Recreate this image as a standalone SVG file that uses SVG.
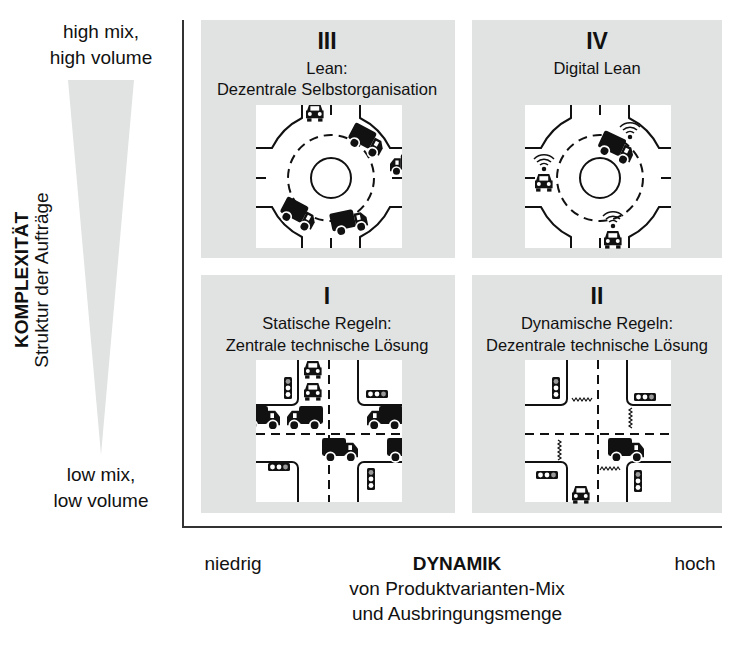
<svg xmlns="http://www.w3.org/2000/svg" xmlns:xlink="http://www.w3.org/1999/xlink" width="736" height="652" viewBox="0 0 736 652">
<style>
text{font-family:"Liberation Sans",Arial,sans-serif;fill:#111}
.ax{font-size:19px;text-anchor:middle}
.t{font-size:16.5px;text-anchor:middle}
.n{font-size:23px;font-weight:bold;text-anchor:middle}
.q{fill:#e1e3e3}
.curb{fill:none;stroke:#111;stroke-width:2}
.dash{fill:none;stroke:#111;stroke-width:2;stroke-dasharray:9 6}
.veh{fill:#111}
</style>
<defs>
<g id="truck" class="veh" transform="scale(1.2)">
<rect x="0" y="0" width="20" height="15" rx="2"/>
<path d="M20 4h6l4 5v7h-10z"/>
<rect x="22" y="6" width="3" height="4" fill="#fff"/>
<circle cx="7" cy="16" r="4" stroke="#fff" stroke-width="1.5"/>
<circle cx="24" cy="16" r="4" stroke="#fff" stroke-width="1.5"/>
</g>
<g id="car" class="veh" transform="scale(1.1)">
<path d="M3 0h10l2 6h1v7h-16v-7h1z"/>
<rect x="4" y="2" width="8" height="4" fill="#fff"/>
<circle cx="3.5" cy="9" r="1.8" fill="#fff"/>
<circle cx="12.5" cy="9" r="1.8" fill="#fff"/>
<rect x="1" y="13" width="4" height="3"/><rect x="11" y="13" width="4" height="3"/>
</g>
<g id="tlv"><rect x="0" y="0" width="8" height="22" rx="1.5" fill="#111"/><circle cx="4" cy="4.5" r="2.4" fill="#999"/><circle cx="4" cy="11" r="2.4" fill="#fff"/><circle cx="4" cy="17.5" r="2.4" fill="#fff"/></g>
<g id="tlh"><rect x="0" y="0" width="22" height="8" rx="1.5" fill="#111"/><circle cx="4.5" cy="4" r="2.4" fill="#fff"/><circle cx="11" cy="4" r="2.4" fill="#fff"/><circle cx="17.5" cy="4" r="2.4" fill="#999"/></g>
<g id="wifi" fill="none" stroke="#111" stroke-width="1.5"><path d="M-4 -4a6 6 0 0 1 8 0M-7 -7a10 10 0 0 1 14 0M-10 -10a14 14 0 0 1 20 0"/><circle cx="0" cy="0" r="1.5" fill="#111"/></g>
<g id="rab">
<rect x="-75" y="-73" width="146" height="143" fill="#fff"/>
<path class="curb" d="M-75 -30H-59A66 66 0 0 1 -29 -60V-73M29 -73V-60A66 66 0 0 1 59 -30H71M71 29H59A66 66 0 0 1 29 59V70M-29 70V59A66 66 0 0 1 -59 29H-75"/>
<circle r="43" class="dash" stroke-dasharray="12 8"/>
<circle r="20" class="curb"/>
<path class="curb" d="M-75 0h10M71 0h-10M0 -73v10M0 70v-10"/>
</g>
<g id="xs">
<rect x="-73" y="-74" width="146" height="142" fill="#fff"/>
<path class="curb" d="M-73 -29H-37a6 6 0 0 0 6 -6V-74M29 -74V-35a6 6 0 0 0 6 6H73M73 28H35a6 6 0 0 0 -6 6V68M-31 68V34a6 6 0 0 0 -6 -6H-73"/>
<path class="dash" d="M0 -74V68M-73 0H73"/>
</g>
<clipPath id="c3"><rect x="256" y="105" width="146" height="143"/></clipPath>
<clipPath id="c1"><rect x="256" y="360" width="146" height="142"/></clipPath>
</defs>

<g id="axes" fill="none" stroke="#333" stroke-width="2">
<path d="M183 20V527H722"/>
</g>
<g id="left-axis">
<polygon points="68,80 134,80 101,455" fill="#e1e3e3"/>
<text class="ax" x="101" y="38">high mix,</text>
<text class="ax" x="101" y="64">high volume</text>
<text class="ax" x="101" y="481">low mix,</text>
<text class="ax" x="101" y="507">low volume</text>
<text class="ax" font-weight="bold" transform="translate(28,280) rotate(-90)">KOMPLEXITÄT</text>
<text class="ax" transform="translate(48,280) rotate(-90)">Struktur der Aufträge</text>
</g>
<g id="bottom-axis">
<text class="ax" x="233" y="570">niedrig</text>
<text class="ax" x="457" y="570" font-weight="bold">DYNAMIK</text>
<text class="ax" x="457" y="595">von Produktvarianten-Mix</text>
<text class="ax" x="457" y="620">und Ausbringungsmenge</text>
<text class="ax" x="695" y="570">hoch</text>
</g>

<g id="q3">
<rect class="q" x="201" y="20" width="254" height="238"/>
<text class="n" x="327" y="49">III</text>
<text class="t" x="327" y="74">Lean:</text>
<text class="t" x="327" y="95">Dezentrale Selbstorganisation</text>
<g clip-path="url(#c3)">
<use xlink:href="#rab" transform="translate(331,178)"/>
<use xlink:href="#car" transform="translate(306,104)"/>
<use xlink:href="#truck" transform="translate(356,122) rotate(28)"/>
<use xlink:href="#truck" transform="translate(390,154) scale(-0.9,0.9) translate(-36,0)"/>
<use xlink:href="#truck" transform="translate(288,196) rotate(28)"/>
<use xlink:href="#truck" transform="translate(329,214) rotate(-12)"/>
</g>
</g>

<g id="q4">
<rect class="q" x="472" y="20" width="250" height="238"/>
<text class="n" x="597" y="49">IV</text>
<text class="t" x="597" y="74">Digital Lean</text>
<use xlink:href="#rab" transform="translate(600,178)"/>
<use xlink:href="#truck" transform="translate(605,130) rotate(25)"/>
<use xlink:href="#wifi" transform="translate(630,137)"/>
<use xlink:href="#car" transform="translate(535,174)"/>
<use xlink:href="#wifi" transform="translate(544,169)"/>
<use xlink:href="#car" transform="translate(604,231)"/>
<use xlink:href="#wifi" transform="translate(613,226)"/>
</g>

<g id="q1">
<rect class="q" x="201" y="275" width="254" height="238"/>
<text class="n" x="327" y="304">I</text>
<text class="t" x="327" y="329">Statische Regeln:</text>
<text class="t" x="327" y="351">Zentrale technische Lösung</text>
<g clip-path="url(#c1)">
<use xlink:href="#xs" transform="translate(329,434)"/>
<use xlink:href="#tlv" transform="translate(284,377)"/>
<use xlink:href="#tlh" transform="translate(366,390)"/>
<use xlink:href="#tlh" transform="translate(268,463)"/>
<use xlink:href="#tlv" transform="translate(367,468)"/>
<use xlink:href="#car" transform="translate(304,361)"/>
<use xlink:href="#car" transform="translate(304,383)"/>
<use xlink:href="#truck" transform="translate(244,406)"/>
<use xlink:href="#truck" transform="translate(323,406) scale(-1,1)"/>
<use xlink:href="#truck" transform="translate(403,406) scale(-1,1)"/>
<use xlink:href="#truck" transform="translate(322,438)"/>
<use xlink:href="#truck" transform="translate(387,438)"/>
</g>
</g>

<g id="q2">
<rect class="q" x="472" y="275" width="250" height="238"/>
<text class="n" x="597" y="304">II</text>
<text class="t" x="597" y="329">Dynamische Regeln:</text>
<text class="t" x="597" y="351">Dezentrale technische Lösung</text>
<use xlink:href="#xs" transform="translate(598,434)"/>
<use xlink:href="#tlv" transform="translate(552,377)"/>
<use xlink:href="#tlh" transform="translate(634,393)"/>
<use xlink:href="#tlh" transform="translate(536,471)"/>
<use xlink:href="#tlv" transform="translate(634,470)"/>
<g fill="none" stroke="#111" stroke-width="1.2">
<path d="M572 398l2 3 2-3 2 3 2-3 2 3 2-3 2 3 2-3 2 3 2-3"/>
<path d="M600 470l2 -3 2 3 2 -3 2 3 2 -3 2 3 2 -3 2 3 2 -3 2 3"/>
<path d="M632 408l-3 2 3 2 -3 2 3 2 -3 2 3 2 -3 2 3 2 -3 2 3 2"/>
<path d="M558 440l3 2 -3 2 3 2 -3 2 3 2 -3 2 3 2 -3 2 3 2 -3 2"/>
</g>
<use xlink:href="#truck" transform="translate(608,438)"/>
<use xlink:href="#car" transform="translate(572,486)"/>
</g>
</svg>
